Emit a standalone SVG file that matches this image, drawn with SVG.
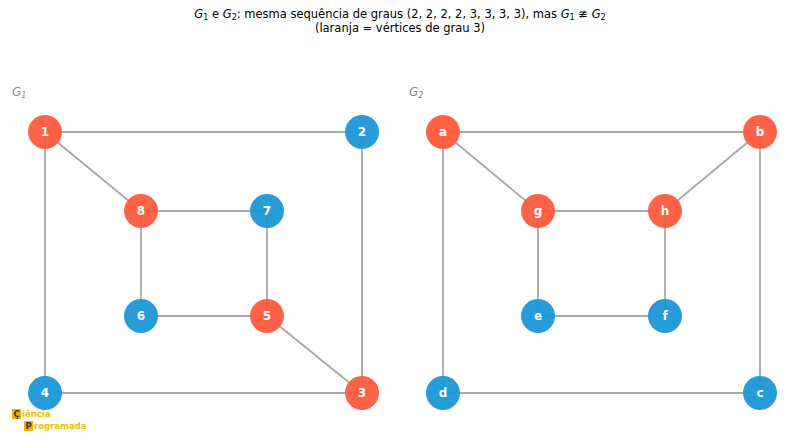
<svg xmlns="http://www.w3.org/2000/svg" width="800" height="438" viewBox="0 0 800 438">
<style>
text{font-family:"DejaVu Sans",sans-serif}
.t{font-size:11.5px;fill:#000;text-anchor:middle}
.g{font-size:12px;fill:#888;font-style:italic}
.e line{stroke:#a8a8a8;stroke-width:1.8}
.o{fill:#ff5a3c;fill-opacity:0.95}
.b{fill:#1a97d6;fill-opacity:0.95}
.n text{font-size:12px;font-weight:bold;fill:#fff;text-anchor:middle}
.l{font-size:8.5px;font-weight:bold;fill:#f0c000}
.k{font-size:8.5px;font-weight:bold;fill:#333}
</style>
<rect width="800" height="438" fill="#fff"/>
<text class="t" x="400" y="18"><tspan font-style="italic">G</tspan><tspan font-size="8" dy="2">1</tspan><tspan dy="-2"> e </tspan><tspan font-style="italic">G</tspan><tspan font-size="8" dy="2">2</tspan><tspan dy="-2">: mesma sequência de graus (2, 2, 2, 2, 3, 3, 3, 3), mas </tspan><tspan font-style="italic">G</tspan><tspan font-size="8" dy="2">1</tspan><tspan dy="-2"> ≇ </tspan><tspan font-style="italic">G</tspan><tspan font-size="8" dy="2">2</tspan></text>
<text class="t" x="400" y="32">(laranja = vértices de grau 3)</text>
<text class="g" x="12" y="96">G<tspan font-size="8" dy="2">1</tspan></text>
<text class="g" x="409" y="96">G<tspan font-size="8" dy="2">2</tspan></text>
<g id="edges" class="e">
<line x1="45" y1="132" x2="362" y2="132"/><line x1="45" y1="132" x2="141" y2="211"/><line x1="45" y1="132" x2="45" y2="393"/><line x1="362" y1="132" x2="362" y2="393"/><line x1="141" y1="211" x2="267" y2="211"/><line x1="141" y1="211" x2="141" y2="316"/><line x1="267" y1="211" x2="267" y2="316"/><line x1="141" y1="316" x2="267" y2="316"/><line x1="267" y1="316" x2="362" y2="393"/><line x1="45" y1="393" x2="362" y2="393"/>
<line x1="443" y1="132" x2="760" y2="132"/><line x1="443" y1="132" x2="538" y2="211"/><line x1="443" y1="132" x2="443" y2="393"/><line x1="760" y1="132" x2="665" y2="211"/><line x1="760" y1="132" x2="760" y2="393"/><line x1="538" y1="211" x2="665" y2="211"/><line x1="538" y1="211" x2="538" y2="316"/><line x1="665" y1="211" x2="665" y2="316"/><line x1="538" y1="316" x2="665" y2="316"/><line x1="443" y1="393" x2="760" y2="393"/>
</g>
<g id="n1" class="n"><circle class="o" cx="45" cy="132" r="17"/><text x="45" y="136">1</text></g>
<g id="n2" class="n"><circle class="b" cx="362" cy="132" r="17"/><text x="362" y="136">2</text></g>
<g id="n3" class="n"><circle class="o" cx="362" cy="393" r="17"/><text x="362" y="397">3</text></g>
<g id="n4" class="n"><circle class="b" cx="45" cy="393" r="17"/><text x="45" y="397">4</text></g>
<g id="n5" class="n"><circle class="o" cx="267" cy="316" r="17"/><text x="267" y="320">5</text></g>
<g id="n6" class="n"><circle class="b" cx="141" cy="316" r="17"/><text x="141" y="320">6</text></g>
<g id="n7" class="n"><circle class="b" cx="267" cy="211" r="17"/><text x="267" y="215">7</text></g>
<g id="n8" class="n"><circle class="o" cx="141" cy="211" r="17"/><text x="141" y="215">8</text></g>
<g id="na" class="n"><circle class="o" cx="443" cy="132" r="17"/><text x="443" y="136">a</text></g>
<g id="nb" class="n"><circle class="o" cx="760" cy="132" r="17"/><text x="760" y="136">b</text></g>
<g id="nc" class="n"><circle class="b" cx="760" cy="393" r="17"/><text x="760" y="397">c</text></g>
<g id="nd" class="n"><circle class="b" cx="443" cy="393" r="17"/><text x="443" y="397">d</text></g>
<g id="ne" class="n"><circle class="b" cx="538" cy="316" r="17"/><text x="538" y="320">e</text></g>
<g id="nf" class="n"><circle class="b" cx="665" cy="316" r="17"/><text x="665" y="320">f</text></g>
<g id="ng" class="n"><circle class="o" cx="538" cy="211" r="17"/><text x="538" y="215">g</text></g>
<g id="nh" class="n"><circle class="o" cx="665" cy="211" r="17"/><text x="665" y="215">h</text></g>
<g id="logo">
<rect x="12" y="409" width="9" height="10" fill="#f0b400"/>
<rect x="24" y="421" width="9" height="10" fill="#f0b400"/>
<text class="k" x="13.5" y="417">Ç</text><text class="l" x="22" y="417">iência</text>
<text class="k" x="25.5" y="429">P</text><text class="l" x="34" y="429">rogramada</text>
</g>
</svg>
